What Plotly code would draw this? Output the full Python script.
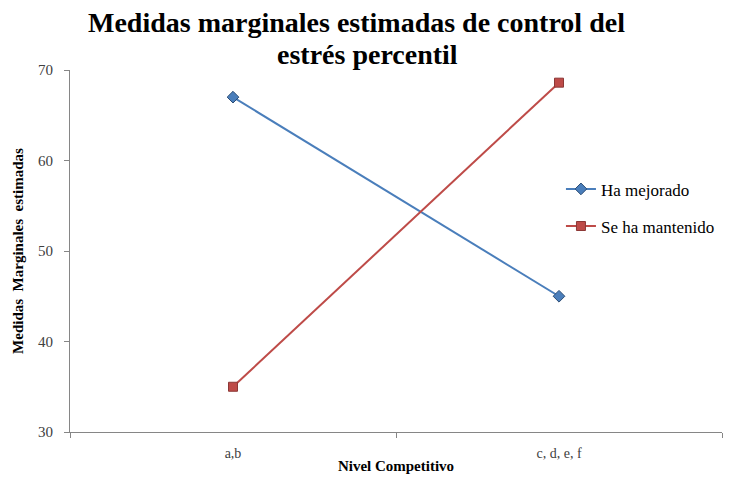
import plotly.graph_objects as go

categories = ["a,b", "c, d, e, f"]
ha_mejorado = [67.0, 45.0]
se_ha_mantenido = [35.0, 68.6]
y_ticks = [30, 40, 50, 60, 70]

serif = "Liberation Serif"

fig = go.Figure()
fig.add_trace(go.Scatter(
    x=categories, y=ha_mejorado, mode="lines+markers", name="Ha mejorado",
    line=dict(color="#4A7EBB", width=2),
    marker=dict(symbol="diamond", size=9, color="#4A7EBB", line=dict(color="#2C4D75", width=1)),
    legendgroup="a"))
fig.add_trace(go.Scatter(
    x=categories, y=se_ha_mantenido, mode="lines+markers", name="Se ha mantenido",
    line=dict(color="#BE4B48", width=2),
    marker=dict(symbol="square", size=9, color="#BE4B48", line=dict(color="#8C3836", width=1)),
    legendgroup="b"))

fig.add_annotation(
    text="<b>Medidas marginales estimadas de control del</b>",
    xref="paper", yref="paper", x=0.439, y=1.083, xanchor="center", yanchor="bottom",
    showarrow=False, font=dict(family=serif, size=28, color="black"))
fig.add_annotation(
    text="<b>estrés percentil</b>",
    xref="paper", yref="paper", x=0.457, y=0.995, xanchor="center", yanchor="bottom",
    showarrow=False, font=dict(family=serif, size=28, color="black"))

fig.update_layout(
    width=715, height=466,
    margin=dict(l=62, r=1, t=62, b=42),
    paper_bgcolor="white", plot_bgcolor="white",
    font=dict(family=serif, size=14, color="#404040"),
    showlegend=True,
    legend=dict(x=0.753, y=0.72, xanchor="left", yanchor="top",
                font=dict(family=serif, size=17, color="black"),
                tracegroupgap=12, bgcolor="rgba(0,0,0,0)"),
    xaxis=dict(type="category", range=[-0.5, 1.5], showline=True, linecolor="#868686",
               linewidth=1, ticks="outside", tickson="boundaries", ticklen=5,
               tickcolor="#868686", showgrid=False, zeroline=False, automargin=False,
               ticklabelstandoff=8,
               tickfont=dict(family=serif, size=14, color="#404040"),
               title=dict(text="<b>Nivel Competitivo</b>", standoff=2,
                          font=dict(family=serif, size=15, color="black"))),
    yaxis=dict(range=[30, 70], tickvals=y_ticks, showline=True, linecolor="#868686",
               linewidth=1, ticks="outside", ticklen=5, tickcolor="#868686",
               showgrid=False, zeroline=False, automargin=False,
               ticklabelstandoff=8,
               tickfont=dict(family=serif, size=15, color="#404040"),
               title=dict(text="<b>Medidas  Marginales  estimadas</b>", standoff=10,
                          font=dict(family=serif, size=15, color="black"))),
)

fig.write_html("out.html")
